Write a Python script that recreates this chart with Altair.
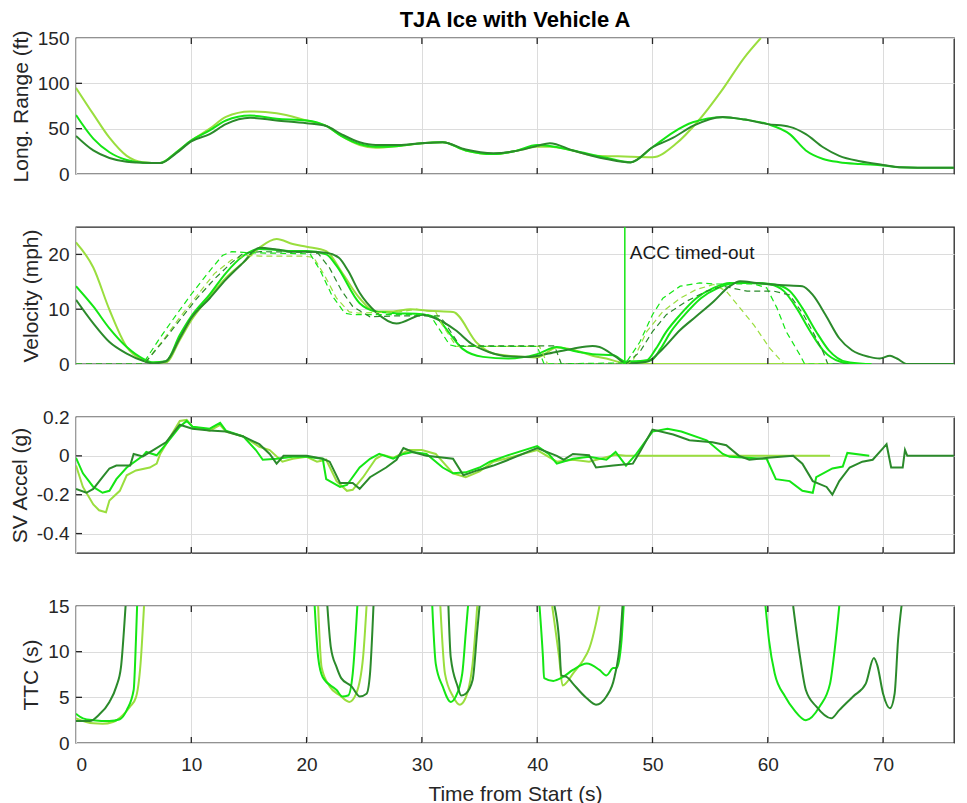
import altair as alt
import pandas as pd

FONT = "Liberation Sans"
SERIES = ["LG", "G", "G2", "DG"]
COLORS = ["#9ade3e", "#14e614", "#14e614", "#2b8a2b"]
X_MAX = 76.15
X_TICKS = [0, 10, 20, 30, 40, 50, 60, 70]

# ---------------- Panel 1: Long. Range (ft) ----------------
R_T_LG = [0, 1.5, 2.9, 4.4, 5.8, 7.3, 8.7, 10, 11.6, 13, 15.1, 17.4, 20, 21.7, 23, 24.6, 26, 28, 30, 31.8,
          33.8, 36.2, 38, 40, 41.1, 43.1, 45, 47, 48.1, 50, 52, 54, 56, 58, 59.4]
R_V_LG = [95, 66, 40, 20, 13, 12, 24, 37, 50, 63, 69, 67, 59, 53, 42, 32, 29, 31, 34, 35,
          26, 22, 25, 30, 30, 26, 20, 19.5, 19, 18.5, 33, 59, 92, 129, 150]
R_T_G = [0, 1.5, 2.9, 4.4, 5.8, 7.3, 8.7, 10, 11.6, 13, 15.1, 17.4, 20, 21.7, 23, 24.6, 26, 28, 30, 31.8,
         33.8, 36.2, 38, 40, 41.1, 43.1, 46, 48.1, 50, 51.8, 53.5, 56.1, 58, 60, 61.9, 63.3, 64.8, 66.2, 68, 70,
         71.4, 73, 76.7]
R_V_G = [65, 39, 24, 15.5, 12.5, 12, 24, 37, 48, 59, 64.5, 61, 59, 53, 42, 33, 30, 31, 34, 35,
         26, 22, 25, 32, 31, 26, 18, 13, 29.5, 46, 57, 62.6, 60, 55, 44, 26, 16.6, 13, 11, 9.5,
         7.5, 7, 7]
R_T_DG = R_T_G
R_V_DG = [42, 26, 17.7, 13.6, 12.5, 12, 23, 36, 44, 55, 62, 59, 56, 53, 44, 35, 32, 32, 34, 35,
          27, 23, 25, 31, 34, 26, 16.6, 12.8, 29.5, 40, 53, 63, 60, 55, 52, 44, 29.5, 20, 14, 10,
          7.5, 7, 7]

# ---------------- Panel 2: Velocity (mph) ----------------
V_T_LG = [0, 1.5, 2.9, 4.4, 5.8, 6.7, 7.8, 9, 10, 11.6, 13, 14.5, 15.9, 17.4, 18.8, 20, 21.7, 23.1, 24.6, 26,
          27.5, 29, 30.6, 32.7, 34.8, 36.2, 38, 40, 41.7, 43.1, 44.8, 46, 47.2, 48, 65.5]
V_V_LG = [22.2, 17.6, 9.9, 3.1, 0.7, 0.2, 0.3, 4.4, 8, 12.3, 15.7, 18.5, 21.2, 22.8, 21.9, 21.4, 20.6, 16.6, 12, 9.6,
          9.6, 10, 9.7, 9.5, 3.8, 1.9, 1.4, 1.2, 3, 2.6, 1.5, 1, 0.3, 0, 0]
V_T_G = [0, 1.5, 2.9, 4.4, 5.8, 6.7, 7.8, 9, 10, 11.6, 13, 14.5, 15.9, 17.4, 18.8, 20, 21.7, 22.6, 24.6, 26,
         27.5, 30, 31.2, 32.4, 33.5, 35.3, 37.5, 40, 41.7, 43.1, 44.8, 46.6, 47.7, 49.5, 50.3, 51.2, 52.4, 53.8, 55.3,
         56.7, 58.2, 60.2, 61.4, 62.5, 63.7, 64.8, 66.3, 67.5, 69]
V_V_G = [14.2, 10.5, 6.5, 3.1, 1, 0.3, 0.5, 5.3, 8.7, 12.7, 16.6, 19.7, 21, 20.8, 20.6, 20.6, 20, 17.9, 11.1, 9.6,
         9.3, 9.1, 8.5, 5.6, 2.8, 1.3, 1.0, 1.8, 3.1, 2.4, 1.8, 1.6, 0.4, 0.7, 2.8, 5.9, 9, 12, 13.9,
         14.8, 14.8, 14.5, 13.3, 10.2, 5.9, 2.5, 0.4, 0, 0]
V_T_G2 = [47.7, 49.9, 50.7, 51.6, 52.8, 54.2, 55.7, 57.1, 58.6, 60.6, 61.9, 63.0, 64.2, 65.3, 66.8, 68.5]
V_V_G2 = [0.4, 0.7, 2.8, 5.9, 9, 12, 13.9, 14.8, 14.8, 14.5, 13.3, 10.2, 5.9, 2.5, 0.4, 0]
V_T_DG = [0, 1.5, 2.9, 4.4, 5.8, 6.7, 7.8, 9, 10, 11.6, 13, 14.5, 15.9, 17.4, 18.8, 20, 21.7, 22.8, 23.6, 24.6,
          26, 27.8, 30.1, 31.2, 32.9, 34.3, 35.8, 37.5, 39.3, 41, 43.1, 44.8, 45.4, 46.9, 47.7, 49.5, 50.9, 52.4,
          53.8, 55.3, 56.7, 57.6, 59, 61, 63, 63.9, 65, 66.2, 67.3, 68.8, 69.7, 70.6, 71.2, 72.1, 76.7]
V_V_DG = [11.7, 7.4, 4, 1.9, 0.6, 0.1, 0.5, 4.7, 8.4, 12, 15.4, 18.5, 21.2, 20.9, 20.5, 20.5, 20.3, 19.4, 17, 13,
          9.5, 7.4, 9, 8.3, 6.2, 3.7, 2.2, 1.4, 1.3, 1.9, 2.8, 3.3, 3.1, 1.2, 0.1, 0.4, 2.8, 6.2,
          8.7, 11.4, 14.2, 15.1, 14.8, 14.4, 14.2, 12.6, 9, 4.7, 2.5, 1.3, 1, 1.5, 1.0, 0, 0]

# lead vehicle velocities (dashed)
VD_T_LG = [0, 5.9, 7.5, 9, 10.5, 12, 13.5, 14.8, 16, 19.5, 20.6, 21.6, 22.6, 23.7, 24.5, 28, 29.5, 31.2, 31.8, 33,
           36, 40.2, 40.9, 47.7, 48.3, 49.5, 50.9, 52.4, 53.8, 55.3, 56.4, 57.6, 58.8, 60.2, 61.4, 65]
VD_V_LG = [0, 0, 4.2, 8.5, 12.5, 16.5, 19, 19.8, 19.7, 19.7, 19.5, 16, 12, 9.5, 9.3, 9.5, 10, 9.5, 7, 3.2,
           3.2, 3.2, 0, 0, 0.6, 5.9, 9.6, 12, 13.6, 14.5, 13.3, 10.2, 7.1, 2.8, 0, 0]
VD_T_G = [0, 5.8, 7.2, 8.7, 10.1, 11.6, 12.7, 13.5, 15, 18, 20.3, 21.2, 22.2, 23.3, 24, 27, 30.5, 31, 32.4, 33,
          36, 40, 40.6, 47.7, 48.9, 50, 50.9, 52.4, 54.1, 55.3, 58.8, 59.9, 60.8, 61.6, 62.8, 63.2, 66]
VD_V_G = [0, 0, 4.5, 9, 13, 17, 19.8, 20.5, 20.3, 20.2, 20.1, 17, 12.5, 9.3, 9.0, 9.0, 9.0, 8.0, 3.5, 3.2,
          3.2, 3.2, 0, 0.2, 4, 9, 12, 14.2, 14.8, 14.6, 14.6, 13.9, 10.2, 5.9, 1.6, 0, 0]
VD_T_DG = [0, 5.9, 7.5, 9, 10.5, 12, 13.5, 14.5, 16, 20, 21, 22, 23, 24, 25.5, 28, 31.5, 32, 33.3, 36,
           41.5, 42.1, 47.7, 48.9, 50, 51.2, 52.9, 54.7, 56.1, 58.2, 60.5, 61.9, 63.1, 63.9, 64.8, 65.2, 67]
VD_V_DG = [0, 0, 4, 8, 12, 15.5, 18.5, 20.2, 20.5, 20.4, 20.2, 17.5, 13.5, 10.5, 8.6, 8.8, 8.8, 7.5, 3.3, 3.3,
           3.3, 0, 0, 2.2, 5.9, 9, 11.4, 13.3, 14.2, 13.3, 13.3, 12.6, 9, 5.9, 2.2, 0, 0]

ACC_TIMEOUT_T = [47.6]
ACC_LINE_V0 = [0]
ACC_LINE_V1 = [25]
ACC_LABEL = ["ACC timed-out"]
ACC_LABEL_V = [20.3]

# ---------------- Panel 3: SV Accel (g) ----------------
A_T_LG = [0, 0.6, 1.5, 2, 2.6, 2.9, 3.8, 4.4, 5.2, 6.4, 7, 7.3, 8.1, 9, 9.6, 10.1, 11.6, 12.5, 13, 14.5,
          15.9, 16.8, 17.9, 18.8, 20, 20.9, 21.7, 22.6, 23.5, 24, 24.9, 26, 26.6, 27.5, 28.9, 30, 31.2, 32.7, 33.8, 35,
          36.2, 37.3, 40, 41.7, 43.1, 44.5, 46.8, 47.7, 65.4]
A_V_LG = [-0.05, -0.16, -0.25, -0.28, -0.29, -0.23, -0.18, -0.1, -0.075, -0.06, -0.04, 0.01, 0.09, 0.18, 0.185, 0.15,
          0.13, 0.16, 0.125, 0.1, 0.047, 0.03, -0.03, -0.015, -0.005, -0.03, -0.02, -0.13, -0.18, -0.175, -0.11,
          -0.015, 0.005, -0.01, 0.03, 0.03, 0.01, -0.09, -0.11, -0.08, -0.03, -0.014, 0.03, -0.03, -0.02, -0.03,
          0.005, 0, 0]
A_T_G = [0, 0.6, 1.5, 2.3, 2.9, 3.5, 4.4, 5.8, 6.1, 7, 7.8, 9, 9.6, 10.1, 11.6, 12.5, 13, 14.5, 15.6, 16.2,
         17.4, 18.8, 20, 21.4, 21.7, 22.9, 23.5, 24.6, 25.5, 26.3, 27.5, 28.4, 29.2, 30.4, 31.8, 32.7, 33.8, 35, 35.9,
         37.3, 40, 41, 41.7, 43.1, 44.5, 46, 46.8, 47.7, 48.6, 50, 51.3, 52.5, 54.7, 56.1, 56.7, 59.9, 60.7, 61.9, 63,
         63.9, 64.2, 65.6, 66.5, 66.9, 68.8]
A_V_G = [-0.01, -0.09, -0.16, -0.19, -0.18, -0.12, -0.06, 0.0, 0.02, 0.003, 0.06, 0.15, 0.18, 0.15, 0.14, 0.17,
         0.13, 0.1, 0.03, -0.02, -0.015, -0.005, -0.005, -0.015, -0.12, -0.16, -0.15, -0.06, -0.015, 0.01, -0.015,
         0.01, 0.02, 0.01, -0.06, -0.09, -0.085, -0.06, -0.03, 0, 0.05, 0.01, -0.04, -0.015, -0.005, -0.02, 0.02,
         -0.05, 0.01, 0.125, 0.14, 0.125, 0.08, 0.01, -0.005, -0.015, -0.12, -0.13, -0.18, -0.19, -0.11, -0.065,
         -0.055, 0.015, 0]
A_T_DG = [0, 0.9, 1.5, 2.3, 2.9, 3.5, 4.7, 5, 5.8, 6.7, 7.8, 9, 10.1, 11.6, 13, 14.5, 15.9, 16.8, 17.4, 18,
          20, 21.4, 22, 22.9, 24, 24.6, 25.5, 26.9, 27.8, 28.4, 29.2, 30.4, 32.7, 33.6, 34.8, 36.2, 37.3, 40, 41.7,
          42.3, 43.1, 44.5, 45.1, 46.6, 48.3, 48.9, 50, 51.8, 53.2, 55.2, 56.4, 57.5, 58.4, 60, 62.2, 63, 63.9, 65.1,
          65.6, 66.2, 67.1, 68.2, 69.1, 70.0, 70.3, 70.7, 71.7, 71.9, 72.1, 76.7]
A_V_DG = [-0.17, -0.19, -0.17, -0.11, -0.065, -0.05, -0.05, 0.01, -0.003, 0.03, 0.07, 0.16, 0.14, 0.13, 0.125, 0.1,
          0.06, 0.01, -0.04, 0, 0, -0.015, -0.03, -0.14, -0.14, -0.17, -0.11, -0.06, -0.02, 0.04, 0.02, 0, -0.015,
          -0.1, -0.075, -0.05, -0.025, 0.04, 0, -0.02, 0.01, 0.003, -0.06, -0.05, -0.04, 0.02, 0.135, 0.11, 0.08,
          0.07, 0.055, 0, -0.02, -0.01, 0, -0.04, -0.13, -0.16, -0.2, -0.13, -0.06, -0.03, -0.02, 0.04, 0.06, -0.06,
          -0.06, 0.03, 0, 0]

# ---------------- Panel 4: TTC (s), segments ----------------
TTC_LG_T = [[0, 1.5, 2.3, 3.2, 4.1, 4.7, 5.2, 5.6, 5.9],
            [21.0, 21.3, 22, 22.9, 23.7, 24.3, 24.9, 25.2],
            [31.6, 32, 32.7, 33.3, 33.7, 34.4, 34.8],
            [41.3, 41.9, 42.2, 42.6, 43.1, 44, 44.5, 45.1, 45.4]]
TTC_LG_V = [[2.7, 2.15, 2.1, 2.3, 3.1, 4, 5, 8.7, 15],
            [15, 8.3, 6.2, 5.2, 4.5, 5.4, 9.4, 15],
            [15, 7.6, 5.1, 4.2, 4.7, 8.7, 15],
            [15, 9.4, 6.3, 6.7, 7.6, 9.1, 10.3, 13.1, 15]]
TTC_G_T = [[0, 0.6, 1.5, 2.9, 3.8, 4.4, 5, 5.2, 5.3],
           [20.7, 21, 21.4, 22.6, 23.1, 23.6, 24, 24.4],
           [30.9, 31.2, 31.8, 32.5, 32.9, 33.5, 33.8, 34],
           [40.2, 40.5, 40.6, 41.4, 42.2, 43.1, 44.3, 45.4, 46, 46.6, 46.9, 47.3, 47.5],
           [59.8, 60.1, 60.6, 61.5, 62.3, 63.3, 64.5, 65.4, 65.8, 66.2]]
TTC_G_V = [[3.2, 2.7, 2.5, 2.4, 2.6, 3.6, 5.8, 11.3, 15],
           [15, 9.4, 7.2, 5.8, 5.1, 5.2, 7.6, 15],
           [15, 8.7, 6.2, 4.5, 5, 7.6, 12, 15],
           [15, 9.4, 7.1, 6.8, 7.2, 8, 8.7, 8, 7.4, 8.2, 8.2, 11, 15],
           [15, 11.3, 7.6, 5.1, 3.6, 2.5, 4, 6.5, 10.2, 15]]
TTC_DG_T = [[0, 1.2, 2, 2.9, 3.5, 3.9, 4.2, 4.3],
            [21.8, 22.1, 22.6, 23, 23.9, 24.6, 25.2, 25.5, 25.8],
            [32.3, 32.5, 33.1, 33.4, 33.8, 34.4, 34.8, 35],
            [41.5, 41.9, 42.1, 42.6, 43.1, 44.3, 45.1, 46, 46.7, 47.2, 47.4],
            [62.2, 62.8, 63.3, 64.2, 65.5, 66.2, 67.4, 68.5, 69.2, 69.5, 70, 70.6, 71, 71.3, 71.6]]
TTC_DG_V = [[2.4, 2.4, 3.1, 4.5, 6.2, 8.3, 13.1, 15],
            [15, 10.5, 8.3, 7.1, 6.2, 5.1, 5.4, 7.6, 15],
            [15, 9.4, 6.2, 5.2, 5.4, 6.9, 12.3, 15],
            [15, 11.3, 7.4, 7.2, 6.5, 4.9, 4.2, 5.1, 7.2, 11.3, 15],
            [15, 9.4, 5.8, 4, 2.7, 3.6, 5.1, 6.5, 9.3, 8.5, 5.4, 3.8, 5.4, 11.3, 15]]


def frame(ts, vs, name, seg=0):
    return pd.DataFrame({"t": ts, "v": vs, "s": name, "seg": seg})


def seg_frames(tss, vss, name):
    return pd.concat([frame(t, v, name, i) for i, (t, v) in enumerate(zip(tss, vss))], ignore_index=True)


range_df = pd.concat([frame(R_T_LG, R_V_LG, "LG"), frame(R_T_G, R_V_G, "G"), frame(R_T_DG, R_V_DG, "DG")],
                     ignore_index=True)
vel_df = pd.concat([frame(V_T_LG, V_V_LG, "LG"), frame(V_T_G, V_V_G, "G"), frame(V_T_G2, V_V_G2, "G2"),
                    frame(V_T_DG, V_V_DG, "DG")], ignore_index=True)
lead_df = pd.concat([frame(VD_T_LG, VD_V_LG, "LG"), frame(VD_T_G, VD_V_G, "G"), frame(VD_T_DG, VD_V_DG, "DG")],
                    ignore_index=True)
acc_df = pd.concat([frame(A_T_LG, A_V_LG, "LG"), frame(A_T_G, A_V_G, "G"), frame(A_T_DG, A_V_DG, "DG")],
                   ignore_index=True)
ttc_df = pd.concat([seg_frames(TTC_LG_T, TTC_LG_V, "LG"), seg_frames(TTC_G_T, TTC_G_V, "G"),
                    seg_frames(TTC_DG_T, TTC_DG_V, "DG")], ignore_index=True)
acc_line_df = pd.DataFrame({"t": ACC_TIMEOUT_T, "v": ACC_LINE_V0, "v2": ACC_LINE_V1})
acc_text_df = pd.DataFrame({"t": ACC_TIMEOUT_T, "v": ACC_LABEL_V, "label": ACC_LABEL})

W = 878
AXIS_COLOR = "#262626"
COLOR = alt.Color("s:N", scale=alt.Scale(domain=SERIES, range=COLORS), legend=None)
XSCALE = alt.Scale(domain=[0, X_MAX], nice=False, zero=False, clamp=True)


def x_enc(show):
    if show:
        ax = alt.Axis(values=X_TICKS, grid=True, ticks=False, domain=False, labelFontSize=19, labelPadding=12,
                      title="Time from Start (s)", titleFontSize=21, titlePadding=9)
    else:
        ax = alt.Axis(values=X_TICKS, grid=True, ticks=False, domain=False, labels=False, title=None)
    return alt.X("t:Q", scale=XSCALE, axis=ax)


def y_enc(domain, ticks, title, expr=""):
    kw = dict(values=ticks, grid=True, ticks=False, domain=False, labelFontSize=19, labelPadding=7,
              title=title, titleFontSize=21, titlePadding=6)
    if expr:
        kw["labelExpr"] = expr
    return alt.Y("v:Q", scale=alt.Scale(domain=domain, nice=False, zero=False), axis=alt.Axis(**kw))


def tick_layers(xe, ye, yticks, h):
    xt = pd.DataFrame({"t": X_TICKS[1:]})
    yt = pd.DataFrame({"v": yticks})
    st = dict(color=AXIS_COLOR, strokeWidth=1.3)
    bottom = alt.Chart(xt).mark_rule(**st).encode(x=xe, y=alt.value(h), y2=alt.value(h - 6))
    top = alt.Chart(xt).mark_rule(**st).encode(x=xe, y=alt.value(0), y2=alt.value(6))
    left = alt.Chart(yt).mark_rule(**st).encode(y=ye, x=alt.value(0), x2=alt.value(6))
    return [bottom, top, left]


# Panel 1
H1 = 136
x1 = x_enc(False)
y1 = y_enc([0, 150], [0, 50, 100, 150], "Long. Range (ft)")
p1_lines = alt.Chart(range_df).mark_line(strokeWidth=2, interpolate="monotone", clip=True).encode(
    x=x1, y=y1, color=COLOR, detail="seg:N")
p1 = alt.layer(p1_lines, *tick_layers(x1, y1, [50, 100], H1)).properties(
    width=W, height=H1,
    title=alt.TitleParams("TJA Ice with Vehicle A", anchor="middle", frame="group", fontSize=22,
                          fontWeight="bold", font=FONT, color="#000000", offset=-3))

# Panel 2
H2 = 137
x2 = x_enc(False)
y2 = y_enc([0, 25], [0, 10, 20], "Velocity (mph)")
p2_lines = alt.Chart(vel_df).mark_line(strokeWidth=2, interpolate="monotone", clip=True).encode(
    x=x2, y=y2, color=COLOR)
p2_lead = alt.Chart(lead_df).mark_line(strokeWidth=1.2, strokeDash=[6, 4], clip=True).encode(
    x=x2, y=y2, color=COLOR)
p2_rule = alt.Chart(acc_line_df).mark_rule(color="#14e614", strokeWidth=1.5).encode(
    x=x2, y=y2, y2="v2:Q")
p2_text = alt.Chart(acc_text_df).mark_text(align="left", baseline="middle", dx=5, fontSize=19, font=FONT,
                                           color="#1a1a1a").encode(x=x2, y=y2, text="label:N")
p2 = alt.layer(p2_lines, p2_lead, p2_rule, p2_text, *tick_layers(x2, y2, [10, 20], H2)).properties(
    width=W, height=H2)

# Panel 3
H3 = 136
acc_expr = "datum.value == 0 ? '0' : (datum.value < 0 ? '-' : '') + format(abs(datum.value), '.1f')"
x3 = x_enc(False)
y3 = y_enc([-0.5, 0.2], [-0.4, -0.2, 0, 0.2], "SV Accel (g)", acc_expr)
p3_lines = alt.Chart(acc_df).mark_line(strokeWidth=2, clip=True).encode(x=x3, y=y3, color=COLOR)
p3 = alt.layer(p3_lines, *tick_layers(x3, y3, [-0.4, -0.2, 0], H3)).properties(width=W, height=H3)

# Panel 4
H4 = 137
x4 = x_enc(True)
y4 = y_enc([0, 15], [0, 5, 10, 15], "TTC (s)")
p4_lines = alt.Chart(ttc_df).mark_line(strokeWidth=2, interpolate="monotone", clip=True).encode(
    x=x4, y=y4, color=COLOR, detail="seg:N")
p4 = alt.layer(p4_lines, *tick_layers(x4, y4, [5, 10], H4)).properties(width=W, height=H4)

chart = alt.vconcat(p1, p2, p3, p4, spacing=53, bounds="flush").properties(
    padding={"left": 0, "top": 0, "right": 0, "bottom": 0}
).configure_view(
    stroke=AXIS_COLOR, strokeWidth=1.3
).configure_axis(
    gridColor="#dcdcdc", gridWidth=1, labelFont=FONT, titleFont=FONT, labelColor=AXIS_COLOR,
    titleColor=AXIS_COLOR, titleFontWeight="normal"
)

chart.save("out.html", embed_options={"renderer": "svg", "actions": False})
